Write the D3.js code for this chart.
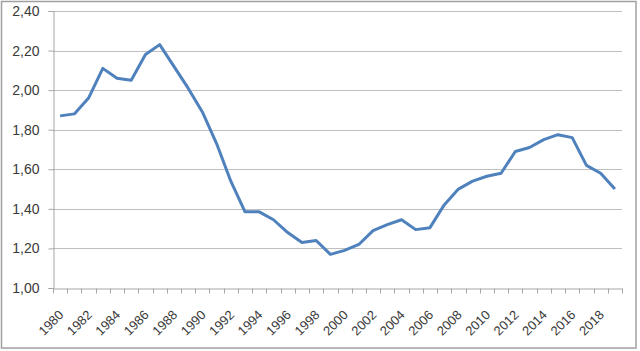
<html>
<head>
<style>
  body { margin: 0; background: #fff; }
  .axis text { fill: #3a3a3a; font-family: "Liberation Sans", Arial, sans-serif; font-size: 14px; }
  .axis text.lab { font-size: 13px; }
  .grid line { stroke: #bfbfbf; }
</style>
</head>
<body>
<svg id="chart" width="640" height="351"></svg>
<script src="https://d3js.org/d3.v7.min.js"></script>
<script>
const years = d3.range(1980, 2020)
const values = [1.87, 1.88, 1.96, 2.11, 2.06, 2.05, 2.18, 2.23, 2.12, 2.01,
                1.89, 1.73, 1.54, 1.385, 1.385, 1.345, 1.28, 1.23, 1.24, 1.17,
                1.19, 1.22, 1.29, 1.32, 1.345, 1.295, 1.305, 1.42, 1.50, 1.54,
                1.565, 1.58, 1.69, 1.71, 1.75, 1.775, 1.76, 1.62, 1.58, 1.50]
const yTicks = [1.0, 1.2, 1.4, 1.6, 1.8, 2.0, 2.2, 2.4]

const svg = d3.select("#chart")
const plotLeft = 53, plotRight = 622, plotTop = 11, plotBottom = 288

// outer chart border
svg.append("rect")
  .attr("x", 1.5).attr("y", 1.5).attr("width", 634.5).attr("height", 346.5)
  .attr("fill", "none").attr("stroke", "#a0a0a0").attr("stroke-width", 1.5)

let xScale = d3.scaleBand().domain(years).range([plotLeft, plotRight])
let yScale = d3.scaleLinear().domain([1, 2.4]).range([plotBottom, plotTop])

// gridlines
svg.append("g").attr("class", "grid")
  .selectAll("line").data(yTicks.slice(1)).enter().append("line")
  .attr("x1", plotLeft).attr("x2", plotRight)
  .attr("y1", d => Math.round(yScale(d)) + 0.5).attr("y2", d => Math.round(yScale(d)) + 0.5)

// y axis
let yAxis = svg.append("g").attr("class", "axis")
  .attr("transform", "translate(" + (plotLeft + 0.5) + ",0)")
  .call(d3.axisLeft(yScale).tickValues(yTicks).tickSize(5).tickPadding(9)
        .tickFormat(d => d.toFixed(2).replace(".", ",")))
yAxis.select(".domain").attr("stroke", "#a6a6a6")
yAxis.selectAll(".tick line").attr("stroke", "#a6a6a6")

// x axis
let xAxis = svg.append("g").attr("class", "axis")
  .attr("transform", "translate(0," + (plotBottom + 0.5) + ")")
  .call(d3.axisBottom(xScale).tickValues([]).tickSize(0))
xAxis.select(".domain").attr("stroke", "#a6a6a6")
// tick marks on category boundaries
xAxis.selectAll("line.bound").data(years.concat([2020])).enter().append("line")
  .attr("class", "bound")
  .attr("x1", (d, i) => Math.round(plotLeft + i * xScale.step()) + 0.5)
  .attr("x2", (d, i) => Math.round(plotLeft + i * xScale.step()) + 0.5)
  .attr("y1", 0).attr("y2", 5)
  .attr("stroke", "#a6a6a6")
xAxis.selectAll("text.lab").data(years.filter(d => d % 2 == 0)).enter().append("text")
  .attr("class", "lab")
  .attr("transform", d => "translate(" + (xScale(d) + xScale.bandwidth() / 2 + 1) + ",24) rotate(-45)")
  .attr("text-anchor", "end")
  .attr("dy", "0.35em")
  .text(d => d)

// the line
let line = d3.line()
  .x((d, i) => xScale(years[i]) + xScale.bandwidth() / 2)
  .y(d => yScale(d))
svg.append("path")
  .datum(values)
  .attr("d", line)
  .attr("fill", "none")
  .attr("stroke", "#4f81bd")
  .attr("stroke-width", 3)
  .attr("stroke-linejoin", "round")
</script>
</body>
</html>
